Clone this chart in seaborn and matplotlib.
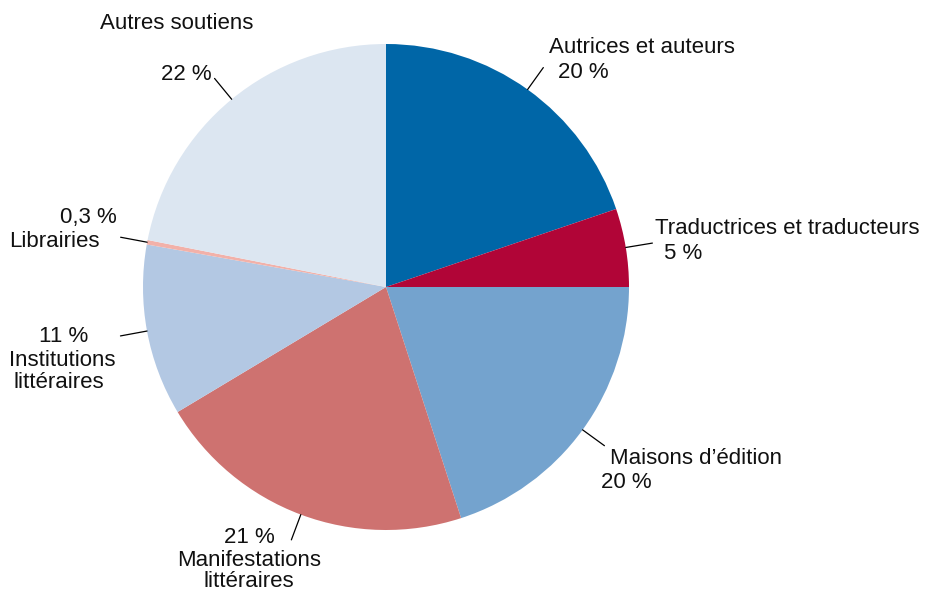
import numpy as np
import seaborn as sns
import matplotlib.pyplot as plt

categories = ["Autrices et auteurs", "Traductrices et traducteurs", "Maisons d\u2019édition",
              "Manifestations littéraires", "Institutions littéraires", "Librairies", "Autres soutiens"]
shares = [19.8, 5.2, 20.0, 21.4, 11.4, 0.3, 21.9]
pct_labels = ["20 %", "5 %", "20 %", "21 %", "11 %", "0,3 %", "22 %"]
palette = ["#0066A7", "#B10537", "#74A3CE", "#CE7270", "#B3C8E3", "#F2B1A9", "#DCE6F1"]

sns.set_theme(style="white")
plt.rcParams["font.family"] = ["Liberation Sans", "DejaVu Sans"]

W, H = 926, 592
fig = plt.figure(figsize=(W / 100, H / 100), dpi=100)
ax = fig.add_axes([0, 0, 1, 1])

cx, cy, r = 386, H - 287, 243
wedges, _ = ax.pie(shares, colors=sns.color_palette(palette), startangle=90,
                   counterclock=False, center=(cx, cy), radius=r,
                   wedgeprops=dict(linewidth=0))
ax.set_xlim(0, W)
ax.set_ylim(0, H)
ax.set_aspect("equal")
ax.axis("off")

# leader lines, radial at the middle of each slice
for w in wedges:
    a = np.deg2rad((w.theta1 + w.theta2) / 2)
    r0, r1 = r, r + 27
    ax.plot([cx + r0 * np.cos(a), cx + r1 * np.cos(a)],
            [cy + r0 * np.sin(a), cy + r1 * np.sin(a)], color="black", lw=0.9)

fs = 16
def lab(x, y, s, ha="left"):
    ax.text(x, H - y, s, ha=ha, va="baseline", fontsize=fs, color="#111111")

lab(549, 53, categories[0]); lab(558, 78, pct_labels[0])
lab(655, 234, categories[1]); lab(664, 259, pct_labels[1])
lab(610, 464, categories[2]); lab(601, 488, pct_labels[2])
lab(249, 543, pct_labels[3], "center")
lab(249, 566, "Manifestations", "center"); lab(249, 587, "littéraires", "center")
lab(64, 342, pct_labels[4], "center")
lab(62, 366, "Institutions", "center"); lab(59, 388, "littéraires", "center")
lab(117, 223, pct_labels[5], "right"); lab(100, 247, categories[5], "right")
lab(100, 29, categories[6]); lab(212, 80, pct_labels[6], "right")

fig.savefig("out.png", dpi=100)
